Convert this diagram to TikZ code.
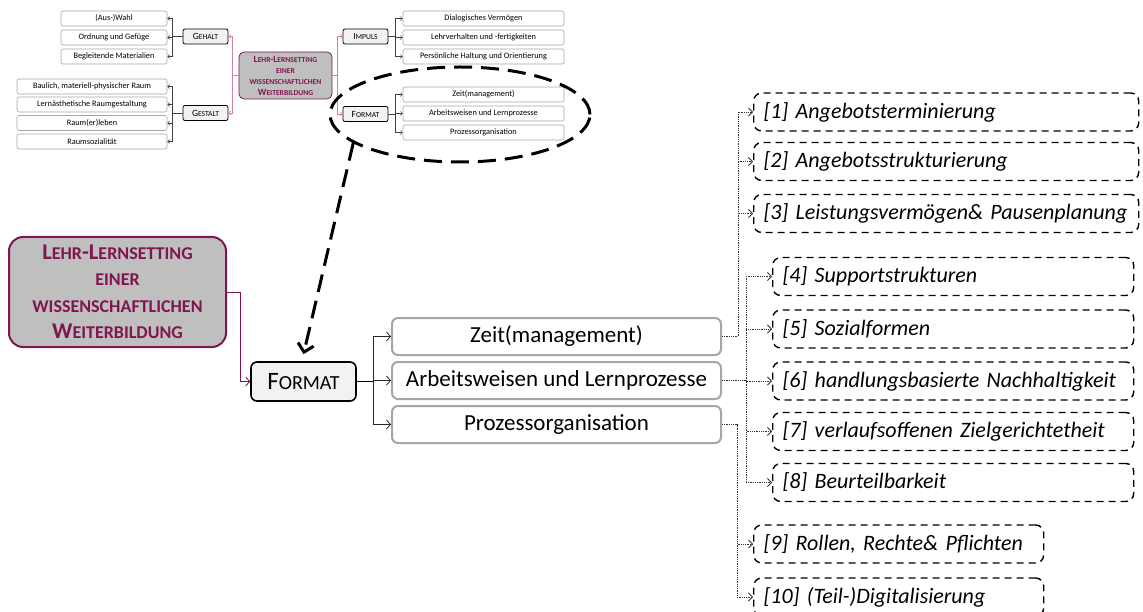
\documentclass[tikz,border=0pt]{standalone}
\usepackage{fontspec}
\setmainfont{Carlito}
\usepackage{graphicx}
\usetikzlibrary{arrows.meta,shapes.geometric,calc}
\definecolor{maroon}{RGB}{128,22,80}
\definecolor{rose}{RGB}{205,130,170}
\definecolor{boxgray}{RGB}{191,191,191}
\definecolor{lightfill}{RGB}{242,242,242}
\definecolor{edgegray}{RGB}{166,166,166}
\newcommand\sm[1]{\scalebox{0.8}{#1}}
\newcommand\fsz[2]{\fontsize{#1}{#2}\selectfont}
\begin{document}
\begin{tikzpicture}[x=1pt,y=-1pt,
  leaf/.style={draw=edgegray, line width=0.6pt, rounded corners=2pt, fill=white,
    minimum height=15pt, inner sep=0pt, font=\fsz{8.3}{10}},
  cat/.style={draw=black, line width=0.8pt, rounded corners=2pt, fill=lightfill,
    minimum width=45pt, minimum height=15pt, inner sep=0pt, font=\fsz{9.5}{10}},
  minihub/.style={draw=maroon, line width=0.8pt, rounded corners=5pt, fill=boxgray,
    minimum width=93pt, minimum height=47pt, inner sep=0pt, align=center,
    text=maroon, font=\fsz{9.5}{11}\bfseries},
  minilink/.style={draw=black!75, line width=0.5pt, -{Straight Barb[length=2pt,width=4pt]}},
  roselink/.style={draw=rose, line width=0.6pt, -{Straight Barb[length=2pt,width=4pt]}},
  hub/.style={draw=maroon, line width=2pt, rounded corners=14pt, fill=boxgray,
    minimum width=217pt, minimum height=110pt, inner sep=0pt, align=center,
    text=maroon, font=\fsz{22.5}{26.5}\bfseries},
  formatbox/.style={draw=black, line width=1.6pt, rounded corners=6pt, fill=lightfill,
    minimum width=105pt, minimum height=39pt, inner sep=0pt, font=\fsz{25}{28}},
  topic/.style={draw=edgegray, line width=2pt, rounded corners=6pt, fill=white,
    minimum width=329pt, minimum height=37pt, inner sep=0pt, font=\fsz{23}{26}},
  item/.style={draw=black, line width=1.4pt, dash pattern=on 7pt off 5pt,
    rounded corners=8pt, minimum height=38pt, anchor=west, align=left,
    inner xsep=10pt, inner ysep=0pt, font=\fsz{22}{25}\itshape},
  mainlink/.style={draw=black!85, line width=0.8pt, -{Straight Barb[length=4pt,width=9pt]}},
  dotlink/.style={draw=black!80, line width=0.8pt, dash pattern=on 1pt off 0.8pt,
    -{Straight Barb[length=4pt,width=8pt]}},
  zoomring/.style={draw=black, line width=3pt, dash pattern=on 18pt off 9pt,
    ellipse, minimum width=260pt, minimum height=95pt, inner sep=0pt},
  zoomarrow/.style={draw=black, line width=3pt, dash pattern=on 18pt off 9pt,
    -{Straight Barb[length=8pt,width=16pt,line width=3pt]}}
]
\useasboundingbox (0,0) rectangle (1143,612);

% ---------- overview map ----------
\node[minihub] (mhub) at (285.5,75.5)
  {L\sm{EHR}-L\sm{ERNSETTING}\\\sm{EINER}\\\sm{WISSENSCHAFTLICHEN}\\W\sm{EITERBILDUNG}};

\node[cat] (geh) at (205.5,36.5) {G\sm{EHALT}};
\node[cat] (ges) at (205.5,113) {G\sm{ESTALT}};
\node[cat] (imp) at (365.5,36.5) {I\sm{MPULS}};
\node[cat] (mfmt) at (365.5,114) {F\sm{ORMAT}};

\node[leaf, minimum width=106pt] (g1) at (114,18.5) {(Aus-)Wahl};
\node[leaf, minimum width=106pt] (g2) at (114,37.5) {Ordnung und Gefüge};
\node[leaf, minimum width=106pt] (g3) at (114,56.5) {Begleitende Materialien};

\node[leaf, minimum width=150pt] (s1) at (92,86.5) {Baulich, materiell-physischer Raum};
\node[leaf, minimum width=150pt] (s2) at (92,104.5) {Lernästhetische Raumgestaltung};
\node[leaf, minimum width=150pt] (s3) at (92,123) {Raum(er)leben};
\node[leaf, minimum width=150pt] (s4) at (92,141.5) {Raumsozialität};

\node[leaf, minimum width=161pt] (i1) at (483.5,18.5) {Dialogisches Vermögen};
\node[leaf, minimum width=161pt] (i2) at (483.5,37.5) {Lehrverhalten und -fertigkeiten};
\node[leaf, minimum width=161pt] (i3) at (483.5,56.5) {Persönliche Haltung und Orientierung};

\node[leaf, minimum width=161pt] (f1) at (483.5,94.5) {Zeit(management)};
\node[leaf, minimum width=161pt] (f2) at (483.5,113.5) {Arbeitsweisen und Lernprozesse};
\node[leaf, minimum width=161pt] (f3) at (483.5,132.5) {Prozessorganisation};

\draw[roselink] (mhub.west) -- ++(-6,0) |- (geh.east);
\draw[roselink] (mhub.west) -- ++(-6,0) |- (ges.east);
\draw[roselink] (mhub.east) -- ++(5,0) |- (imp.west);
\draw[roselink] (mhub.east) -- ++(5,0) |- (mfmt.west);

\foreach \t in {g1,g2,g3} \draw[minilink] (geh.west) -- ++(-10,0) |- (\t.east);
\foreach \t in {s1,s2,s3,s4} \draw[minilink] (ges.west) -- ++(-10,0) |- (\t.east);
\foreach \t in {i1,i2,i3} \draw[minilink] (imp.east) -- ++(7,0) |- (\t.west);
\foreach \t in {f1,f2,f3} \draw[minilink] (mfmt.east) -- ++(7,0) |- (\t.west);

\node[zoomring] (ring) at (460,114.5) {};

% ---------- detail view ----------
\node[hub] (hub) at (117.5,292)
  {L\sm{EHR}-L\sm{ERNSETTING}\\\sm{EINER}\\\sm{WISSENSCHAFTLICHEN}\\W\sm{EITERBILDUNG}};
\node[formatbox] (fmt) at (303.5,381.5) {F\sm{ORMAT}};

\draw[zoomarrow] (ring.195) -- ([yshift=7pt]fmt.north);

\draw[draw=maroon, line width=0.8pt, -{Straight Barb[length=4pt,width=9pt]}]
  (hub.east) -- ++(13,0) |- (fmt.west);

\node[topic] (t1) at (556.5,336.5) {Zeit(management)};
\node[topic] (t2) at (556.5,380.5) {Arbeitsweisen und Lernprozesse};
\node[topic] (t3) at (556.5,424.5) {Prozessorganisation};

\draw[line width=1.6pt] (fmt.east) -- ++(17,0) coordinate (fb);
\foreach \t in {t1,t2,t3} \draw[mainlink] (fb) |- (\t.west);

\node[item, text width=365pt] (r1) at (753,112) {[1] Angebotsterminierung};
\node[item, text width=365pt] (r2) at (753,161.5) {[2] Angebotsstrukturierung};
\node[item, text width=365pt] (r3) at (753,213.5) {[3] Leistungsvermögen\& Pausenplanung};
\node[item, text width=341pt] (r4) at (772,276.5) {[4] Supportstrukturen};
\node[item, text width=341pt] (r5) at (772,329) {[5] Sozialformen};
\node[item, text width=341pt] (r6) at (772,381) {[6] handlungsbasierte Nachhaltigkeit};
\node[item, text width=341pt] (r7) at (772,431.5) {[7] verlaufsoffenen Zielgerichtetheit};
\node[item, text width=341pt] (r8) at (772,482.5) {[8] Beurteilbarkeit};
\node[item, text width=270pt] (r9) at (753,544) {[9] Rollen, Rechte\& Pflichten};
\node[item, text width=270pt] (r10) at (753,597) {[10] (Teil-)Digitalisierung};

\foreach \t in {r1,r2,r3} \draw[dotlink] (t1.east) -- ++(16,0) |- (\t.west);
\foreach \t in {r4,r5,r6,r7,r8} \draw[dotlink] (t2.east) -- ++(24,0) |- (\t.west);
\foreach \t in {r9,r10} \draw[dotlink] (t3.east) -- ++(15,0) |- (\t.west);
\end{tikzpicture}
\end{document}
